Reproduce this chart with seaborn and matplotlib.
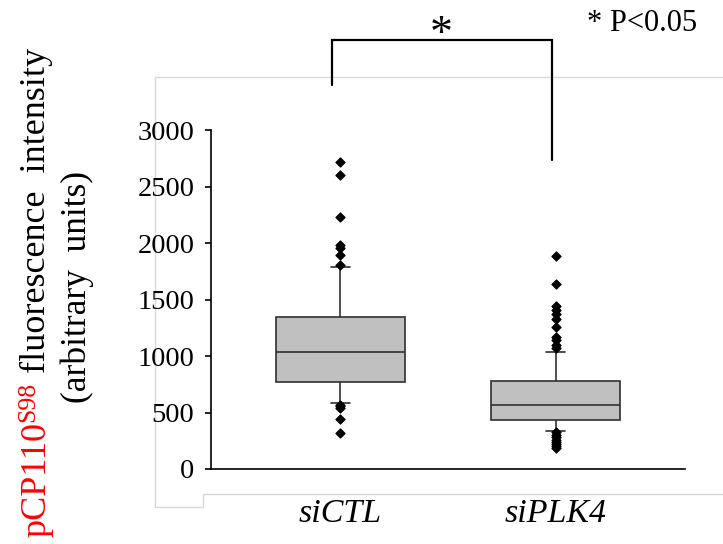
import matplotlib
matplotlib.use("Agg")
import matplotlib.pyplot as plt
from matplotlib.lines import Line2D
import pandas as pd
import seaborn as sns

# 1. DATA
groups = ["siCTL", "siPLK4"]

# box summary: lower whisker, Q1, median, Q3, upper whisker
ctl_box = [581, 767, 1038, 1348, 1790]
plk4_box = [336, 434, 566, 779, 1038]

# points outside the whiskers
ctl_out = [2720, 2600, 2233, 1985, 1955, 1895, 1805,
           570, 555, 540, 440, 318]
plk4_out = [1885, 1637, 1442, 1407, 1372, 1325, 1259, 1171, 1142, 1097, 1068,
            325, 300, 280, 260, 240, 220, 200, 185]

y_ticks = [0, 500, 1000, 1500, 2000, 2500, 3000]

box_df = pd.DataFrame({
    "group": [groups[0]] * len(ctl_box) + [groups[1]] * len(plk4_box),
    "value": ctl_box + plk4_box,
})
out_df = pd.DataFrame({
    "group": [groups[0]] * len(ctl_out) + [groups[1]] * len(plk4_out),
    "value": ctl_out + plk4_out,
})

# 2. STYLE
sns.set_style("ticks")
plt.rcParams["font.family"] = ["Liberation Serif", "DejaVu Serif"]
plt.rcParams["text.color"] = "black"
plt.rcParams["xtick.color"] = "black"
plt.rcParams["ytick.color"] = "black"
plt.rcParams["xtick.labelcolor"] = "black"
plt.rcParams["ytick.labelcolor"] = "black"

W, H = 723, 544
fig = plt.figure(figsize=(W / 100, H / 100), dpi=100)
ax = fig.add_axes([211 / W, 1 - 469 / H, (685 - 211) / W, (469 - 130) / H])

# 3. BOXES + OUTLIERS
sns.boxplot(data=box_df, x="group", y="value", order=groups, whis=(0, 100),
            width=0.6, color="#c0c0c0", linecolor="#303030", linewidth=1.2,
            showfliers=False, capwidths=0.09, ax=ax)
sns.stripplot(data=out_df, x="group", y="value", order=groups, jitter=False,
              marker="D", size=4.6, color="black", edgecolor="black",
              linewidth=0.9, ax=ax)

ax.set_xlim(-0.6, 1.6)
ax.set_ylim(0, 3000)
ax.set_yticks(y_ticks)
ax.set_xlabel("")
ax.set_ylabel("")
sns.despine(ax=ax)
for side in ["left", "bottom"]:
    ax.spines[side].set_linewidth(1.2)
    ax.spines[side].set_color("black")
ax.tick_params(axis="y", length=4, width=1.2, pad=8, labelsize=20.5)
ax.tick_params(axis="x", length=0, pad=21, labelsize=24.5)
for lab in ax.get_xticklabels():
    lab.set_fontstyle("italic")

# 4. SIGNIFICANCE BRACKET
ax.plot([-0.04, -0.04, 0.984, 0.984], [3398, 3796, 3796, 2735],
        color="black", lw=1.6, clip_on=False, solid_joinstyle="miter")
fig.text(441 / W, 1 - 47 / H, "*", ha="center", va="baseline", fontsize=33)
fig.text(587 / W, 1 - 31 / H, "* P<0.05", ha="left", va="baseline", fontsize=22)

# 5. LIGHT GREY FRAME (pasted chart border)
frame = "#d9d9d9"
for xs, ys in [([155, W], [77, 77]), ([155, 155], [77, 507]),
               ([155, 203], [507, 507]), ([203, 203], [494, 507]),
               ([203, W], [494, 494])]:
    fig.add_artist(Line2D([x / W for x in xs], [1 - y / H for y in ys],
                          color=frame, lw=1, transform=fig.transFigure, zorder=0))

# 6. Y LABEL (mixed colours, superscript)
fig.canvas.draw()
r = fig.canvas.get_renderer()
x1 = 45 / W
y = 1 - 537 / H
parts = [("pCP110", "red", 26, 0), ("S98", "red", 18.5, 11),
         (" fluorescence  intensity", "black", 26, 0)]
for txt, col, fs, shift in parts:
    t = fig.text(x1 - shift / W, y, txt, color=col, fontsize=fs, rotation=90,
                 rotation_mode="anchor", ha="left", va="baseline")
    bb = t.get_window_extent(renderer=r)
    y += bb.height / H
fig.text(86 / W, 1 - 287 / H, "(arbitrary  units)", color="black", fontsize=25.5,
         rotation=90, rotation_mode="anchor", ha="center", va="baseline")

fig.savefig("out.png", dpi=100)
